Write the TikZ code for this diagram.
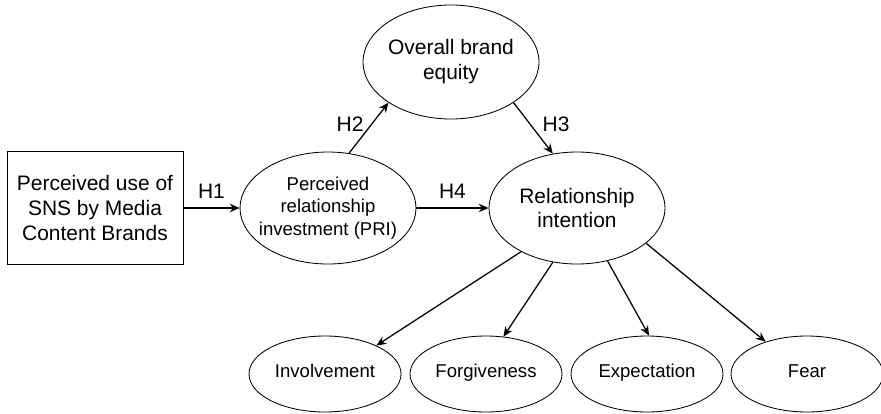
\documentclass[tikz,border=0pt]{standalone}
\usepackage{fontspec}
\setmainfont{Liberation Sans}
\usetikzlibrary{positioning, shapes, arrows.meta}

\begin{document}
\begin{tikzpicture}[every node/.style={font=\fontsize{14.9}{17.7}\selectfont},
    oval/.style={draw, ellipse, line width=0.6pt, inner sep=-2cm, align=center, minimum width=4.4cm, minimum height=2.8cm},
    leaf/.style={draw, ellipse, line width=0.6pt, inner sep=-2cm, text height=0.72em, text depth=0.22em, minimum width=3.8cm, minimum height=1.9cm, font=\fontsize{13.2}{16}\selectfont},
    arr/.style={-{Stealth[length=7pt, width=6pt]}, line width=0.9pt}]
          \useasboundingbox (0, 0) rectangle (22.025, -10.325);

          \node[draw, rectangle, line width=0.6pt, align=center, minimum width=4.4cm, minimum height=2.825cm] (sns) at (2.375, -5.2) {
            Perceived use of\\ SNS by Media\\ Content Brands
          };

          \node[oval, font=\fontsize{13.2}{16}\selectfont] (pri) at (8.2, -5.2) {
            Perceived\\ relationship\\ investment (PRI)
          };

          \node[oval, minimum height=2.85cm] (obe) at (11.275, -1.55) {
            Overall brand\\ equity
          };

          \node[oval] (ri) at (14.425, -5.2) {
            Relationship\\ intention
          };

          \node[leaf] (inv) at (8.125, -9.35) {Involvement};
          \node[leaf] (forg) at (12.15, -9.35) {Forgiveness};
          \node[leaf] (expc) at (16.175, -9.35) {Expectation};
          \node[leaf] (fear) at (20.175, -9.35) {Fear};

          \draw[arr] (sns) -- node[above=3pt] (h1) {H1} (pri);
          \draw[arr] (pri.69) -- node[left, yshift=3pt] (h2) {H2} (obe.213);
          \draw[arr] (obe.-33) -- node[right, xshift=3pt, yshift=3pt] (h3) {H3} (ri.114);
          \draw[arr] (pri) -- node[above=3pt] (h4) {H4} (ri);

          \draw[arr] (ri.218) -- (inv.29);
          \draw[arr] (ri.246) -- (forg.65);
          \draw[arr] (ri.300) -- (expc.87);
          \draw[arr] (ri.333) -- (fear.142);
        \end{tikzpicture}
\end{document}
